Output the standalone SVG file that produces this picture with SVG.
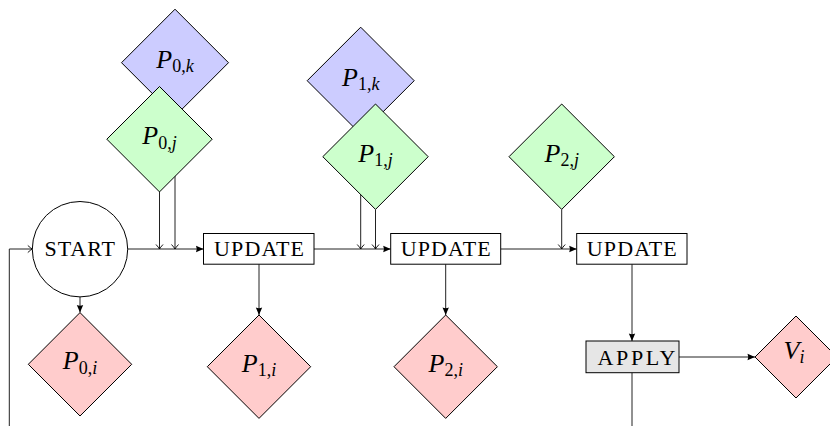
<svg xmlns="http://www.w3.org/2000/svg" width="830" height="426" viewBox="0 0 830 426">
<defs>
<style>
.edge{fill:none;stroke:#222;stroke-width:1}
.dia{stroke:#000;stroke-width:1}
.blue{fill:#ccccff}.green{fill:#ccffcc}.red{fill:#ffcccc}
.box{fill:#fff;stroke:#000;stroke-width:1}
</style>
<marker id="fa" markerUnits="userSpaceOnUse" markerWidth="12" markerHeight="10" viewBox="-8 -5 10 10" refX="0" refY="0" orient="auto">
<path d="M0,0 L-7.5,-3.2 Q-6,0 -7.5,3.2 Z" fill="#000"/>
</marker>
<marker id="oa" markerUnits="userSpaceOnUse" markerWidth="12" markerHeight="10" viewBox="-8 -5 10 10" refX="0" refY="0" orient="auto">
<path d="M-4.5,-3.5 Q-1.5,-0.8 0,0 Q-1.5,0.8 -4.5,3.5" fill="none" stroke="#000" stroke-width="0.9"/>
</marker>
</defs>
<g id="connectors">
<line class="edge" x1="127.7" y1="249" x2="203.5" y2="249" marker-end="url(#fa)"/>
<line class="edge" x1="159.5" y1="191.9" x2="159.5" y2="249" marker-end="url(#oa)"/>
<line class="edge" x1="175" y1="116" x2="175" y2="249" marker-end="url(#oa)"/>
<line class="edge" x1="80" y1="296.9" x2="80" y2="312.6" marker-end="url(#fa)"/>
<line class="edge" x1="259" y1="264.2" x2="259" y2="315" marker-end="url(#fa)"/>
<line class="edge" x1="314" y1="249" x2="390.7" y2="249" marker-end="url(#fa)"/>
<line class="edge" x1="360.7" y1="134" x2="360.7" y2="249" marker-end="url(#oa)"/>
<line class="edge" x1="375.5" y1="209.4" x2="375.5" y2="249" marker-end="url(#oa)"/>
<line class="edge" x1="445.7" y1="264.2" x2="445.7" y2="315" marker-end="url(#fa)"/>
<line class="edge" x1="500.7" y1="249" x2="576.7" y2="249" marker-end="url(#fa)"/>
<line class="edge" x1="561.7" y1="209.4" x2="561.7" y2="249" marker-end="url(#oa)"/>
<line class="edge" x1="632" y1="264.2" x2="632" y2="341" marker-end="url(#fa)"/>
<line class="edge" x1="679" y1="357" x2="755" y2="357" marker-end="url(#fa)"/>
<line class="edge" x1="632" y1="372.7" x2="632" y2="426"/>
<polyline class="edge" points="9.3,426 9.3,249 32.3,249" marker-end="url(#oa)"/>
</g>
<g font-family="Liberation Serif, serif" fill="#000">
<g id="P0k">
<polygon class="dia blue" points="175,9.2 228.5,62.7 175,116.2 121.5,62.7"/>
<text x="175" y="67.5" font-size="26" text-anchor="middle"><tspan font-style="italic">P</tspan><tspan font-size="18" dy="4.5">0,</tspan><tspan font-size="18" font-style="italic">k</tspan></text>
</g>
<g id="P0j">
<polygon class="dia green" points="159.5,86.5 212.2,139.2 159.5,191.9 106.8,139.2"/>
<text x="159.5" y="144" font-size="26" text-anchor="middle"><tspan font-style="italic">P</tspan><tspan font-size="18" dy="4.5">0,</tspan><tspan font-size="18" font-style="italic">j</tspan></text>
</g>
<g id="P1k">
<polygon class="dia blue" points="360.7,27.2 414.2,80.7 360.7,134.2 307.2,80.7"/>
<text x="360.7" y="85.5" font-size="26" text-anchor="middle"><tspan font-style="italic">P</tspan><tspan font-size="18" dy="4.5">1,</tspan><tspan font-size="18" font-style="italic">k</tspan></text>
</g>
<g id="P1j">
<polygon class="dia green" points="375.5,104 428.2,156.7 375.5,209.4 322.8,156.7"/>
<text x="375.5" y="161.5" font-size="26" text-anchor="middle"><tspan font-style="italic">P</tspan><tspan font-size="18" dy="4.5">1,</tspan><tspan font-size="18" font-style="italic">j</tspan></text>
</g>
<g id="P2j">
<polygon class="dia green" points="561.7,104 614.4,156.7 561.7,209.4 509,156.7"/>
<text x="561.7" y="161.5" font-size="26" text-anchor="middle"><tspan font-style="italic">P</tspan><tspan font-size="18" dy="4.5">2,</tspan><tspan font-size="18" font-style="italic">j</tspan></text>
</g>
<g id="START">
<circle cx="80" cy="249.2" r="47.7" fill="#fff" stroke="#000" stroke-width="1"/>
<text x="44.5" y="256" font-size="22" textLength="70.5" lengthAdjust="spacing">START</text>
</g>
<g id="UPDATE1">
<rect class="box" x="203.5" y="233.5" width="110.5" height="30.7"/>
<text x="214" y="256" font-size="22" textLength="90" lengthAdjust="spacing">UPDATE</text>
</g>
<g id="UPDATE2">
<rect class="box" x="390.7" y="233.5" width="110" height="30.7"/>
<text x="400.7" y="256" font-size="22" textLength="90" lengthAdjust="spacing">UPDATE</text>
</g>
<g id="UPDATE3">
<rect class="box" x="576.7" y="233.5" width="110.3" height="30.7"/>
<text x="586.8" y="256" font-size="22" textLength="90" lengthAdjust="spacing">UPDATE</text>
</g>
<g id="APPLY">
<rect class="box" x="586" y="341" width="93" height="31.7" style="fill:#e6e6e6"/>
<text x="597.5" y="364.5" font-size="22" textLength="78" lengthAdjust="spacing">APPLY</text>
</g>
<g id="P0i">
<polygon class="dia red" points="80,312.6 131.7,364.3 80,416 28.3,364.3"/>
<text x="80" y="369" font-size="26" text-anchor="middle"><tspan font-style="italic">P</tspan><tspan font-size="18" dy="4.5">0,</tspan><tspan font-size="18" font-style="italic">i</tspan></text>
</g>
<g id="P1i">
<polygon class="dia red" points="259,315 310.7,366.7 259,418.4 207.3,366.7"/>
<text x="259" y="371.5" font-size="26" text-anchor="middle"><tspan font-style="italic">P</tspan><tspan font-size="18" dy="4.5">1,</tspan><tspan font-size="18" font-style="italic">i</tspan></text>
</g>
<g id="P2i">
<polygon class="dia red" points="445.7,315 497.4,366.7 445.7,418.4 394,366.7"/>
<text x="445.7" y="371.5" font-size="26" text-anchor="middle"><tspan font-style="italic">P</tspan><tspan font-size="18" dy="4.5">2,</tspan><tspan font-size="18" font-style="italic">i</tspan></text>
</g>
<g id="Vi">
<polygon class="dia red" points="796,316 837,357 796,398 755,357"/>
<text x="794" y="358.5" font-size="26" text-anchor="middle"><tspan font-style="italic">V</tspan><tspan font-size="18" font-style="italic" dy="4.5">i</tspan></text>
</g>
</g>
</svg>
